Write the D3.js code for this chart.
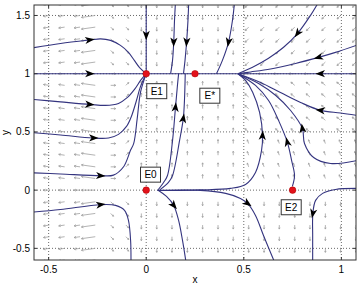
<!DOCTYPE html>
<html>
<head>
<meta charset="utf-8">
<script src="https://cdn.jsdelivr.net/npm/d3@7"></script>
<style>
body { margin: 0; background: #fff; }
svg { display: block; }
text { font-family: "Liberation Sans", Arial, sans-serif; fill: #000; }
</style>
</head>
<body>
<svg id="myGraph"></svg>
<script>
var width = 359;
var height = 286;

// axis ticks
var xTicks = [-0.5, 0, 0.5, 1];
var yTicks = [-0.5, 0, 0.5, 1, 1.5];

// equilibria
var eqX = [0, 0, 0.25, 0.75];
var eqY = [0, 1, 1, 0];
var labelText = ["E0", "E1", "E*", "E2"];
var labelX = [0.022, 0.054, 0.326, 0.743];
var labelY = [0.133, 0.85, 0.811, -0.147];

// direction field grid (gray arrows), one code per grid point
var fieldX = [-0.575, -0.496, -0.418, -0.339, -0.261, -0.182, -0.104, -0.025, 0.054, 0.132, 0.211,
              0.289, 0.368, 0.446, 0.525, 0.604, 0.682, 0.761, 0.839, 0.918, 0.996, 1.075];
var fieldY = [1.6, 1.5, 1.4, 1.3, 1.2, 1.1, 1.0, 0.9, 0.8, 0.7, 0.6, 0.5, 0.4, 0.3, 0.2, 0.1,
              0.0, -0.1, -0.2, -0.3, -0.4, -0.5, -0.6];
var fieldDir = [
    "bbbbBccSSSSSSSzzzzzzzz",
    "bbbbBccSSSSSSSzzzzzzzz",
    "bbbbBccSSSSSSSzzzzzzzz",
    "bbbbBccSSSSSSSzzzzzzzz",
    "bbbbBccSSSSSSSzzzzzzzz",
    "bbbbBccSSSSSSSzzzzzzzz",
    "WWWWLE........WWWWWWWW",
    "aaaaAEeNNNNNNNqqqqqqqq",
    "aaaaAEeNNNNNNNqqqqqqqq",
    "aaaaAEeNNNNNNNqqqqqqqq",
    "aaaaAEeNNNNNNNqqqqqqqq",
    "aaaaAEeNNNNNNNqqqqqqqq",
    "aaaaAEeNNNNNNNnnnnnnnn",
    "aaaaAEeNNNNNNNnnnnnnnn",
    "aaaaAEeNNNNNNNnnnnnnnn",
    "aaaaAEeNNNNNNNnnnnnnnn",
    "WWWWLE................",
    "bbbbBccSSSSSSSSSSSSSSS",
    "bbbbBccSSSSSSSSSSSSSSS",
    "bbbbBccSSSSSSSSSSSSSSS",
    "bbbbBccSSSSSSSSSSSSSSS",
    "bbbbBccSSSSSSSSSSSSSSS",
    "bbbbBccSSSSSSSSSSSSSSS"
];

// trajectories, points listed in the direction of flow
var lineTopLeft = [[-0.58,1.223],[-0.439,1.260],[-0.286,1.290],[-0.234,1.299],[-0.183,1.286],[-0.132,1.243],[-0.091,1.183],[-0.060,1.112],[-0.034,1.052],[0,1]];
var lineY1Left = [[-0.58,1],[0,1]];
var lineMidLeft = [[-0.58,0.779],[-0.439,0.758],[-0.286,0.736],[-0.209,0.728],[-0.142,0.745],[-0.096,0.796],[-0.060,0.865],[-0.029,0.942],[0,1]];
var lineLowLeft = [[-0.58,0.493],[-0.439,0.474],[-0.275,0.448],[-0.193,0.448],[-0.142,0.479],[-0.101,0.547],[-0.076,0.633],[-0.050,0.770],[-0.029,0.891],[0,1]];
var lineNearE0Left = [[-0.58,0.149],[-0.439,0.139],[-0.234,0.124],[-0.168,0.129],[-0.116,0.201],[-0.080,0.344],[-0.064,0.401],[-0.046,0.616],[-0.029,0.842],[0,1]];
var lineBottomLeft = [[-0.58,-0.189],[-0.439,-0.166],[-0.234,-0.125],[-0.157,-0.131],[-0.111,-0.174],[-0.091,-0.260],[-0.080,-0.432],[-0.078,-0.62]];
var lineAxisTop = [[0,1.62],[0,1]];
var lineTopA = [[0.150,1.62],[0.145,1.458],[0.141,1.272],[0.135,1.117],[0.125,1.0]];
var lineTopB = [[0.218,1.62],[0.214,1.458],[0.207,1.272],[0.199,1.117],[0.191,1.0]];
var lineTopC = [[0.453,1.62],[0.442,1.458],[0.422,1.272],[0.391,1.117],[0.360,1.0]];
var lineY1Mid = [[0,1],[0.47,1]];
var lineY1Right = [[1.08,1],[0.47,1]];
var lineRightHigh = [[1.08,1.245],[0.970,1.183],[0.883,1.140],[0.765,1.088],[0.637,1.041],[0.535,1.015],[0.47,1]];
var lineTopRight = [[0.885,1.62],[0.842,1.501],[0.776,1.347],[0.704,1.227],[0.627,1.133],[0.545,1.056],[0.47,1]];
var lineE0UpA = [[0.058,-0.003],[0.089,0.066],[0.109,0.126],[0.135,0.427],[0.150,0.711],[0.160,0.899],[0.166,1.0]];
var lineE0UpB = [[0.068,0],[0.114,0.066],[0.135,0.126],[0.171,0.427],[0.19,0.616],[0.196,0.77],[0.2,1.0]];
var lineE0Right = [[0.058,-0.003],[0.278,0.002],[0.432,0.015],[0.509,0.049],[0.560,0.152],[0.591,0.341],[0.596,0.470],[0.581,0.667],[0.546,0.839],[0.509,0.942],[0.47,1]];
var lineE2Up = [[0.749,0.032],[0.760,0.126],[0.745,0.255],[0.723,0.412],[0.678,0.599],[0.627,0.770],[0.560,0.899],[0.47,1]];
var lineRightMid = [[1.08,0.254],[0.945,0.229],[0.858,0.280],[0.811,0.401],[0.800,0.530],[0.740,0.684],[0.664,0.813],[0.576,0.916],[0.47,1]];
var lineRightUpper = [[1.08,0.642],[0.996,0.663],[0.893,0.685],[0.791,0.753],[0.688,0.839],[0.586,0.925],[0.47,1]];
var lineE0Down = [[0.063,-0.003],[0.104,-0.054],[0.141,-0.131],[0.166,-0.260],[0.186,-0.432],[0.204,-0.62]];
var lineE0RightDown = [[0.073,-0.002],[0.278,-0.002],[0.407,-0.028],[0.483,-0.071],[0.519,-0.114],[0.560,-0.217],[0.601,-0.389],[0.658,-0.62]];
var lineRightBottom = [[1.08,0.015],[0.970,0.006],[0.904,-0.028],[0.868,-0.088],[0.854,-0.200],[0.853,-0.389],[0.853,-0.62]];

var streamLines = [lineTopLeft, lineY1Left, lineMidLeft, lineLowLeft, lineNearE0Left, lineBottomLeft,
    lineAxisTop, lineTopA, lineTopB, lineTopC, lineY1Mid, lineY1Right, lineRightHigh, lineTopRight,
    lineE0UpA, lineE0UpB, lineE0Right, lineE2Up, lineRightMid, lineRightUpper,
    lineE0Down, lineE0RightDown, lineRightBottom];
// where each trajectory carries its arrowhead (null = none)
var streamArrows = [[-0.29,1.29], [-0.29,1], [-0.29,0.736], [-0.27,0.448], [-0.234,0.124], [-0.234,-0.125],
    [0,1.33], [0.141,1.272], [0.207,1.272], [0.422,1.272], null, [0.893,1], [0.883,1.14], [0.776,1.347],
    [0.150,0.711], [0.19,0.616], [0.596,0.47], [0.723,0.412], [0.8,0.53], [0.893,0.685],
    [0.141,-0.131], [0.519,-0.114], [0.854,-0.2]];

// code -> [angle in degrees, length in px]
var dirCodes = {
    a: [172, 6], A: [172, 14], b: [188, 6], B: [188, 14],
    W: [180, 6], L: [180, 14], E: [0, 5], e: [45, 4], c: [-45, 4],
    N: [90, 4], S: [-90, 4], q: [140, 5], n: [110, 4], z: [225, 5]
};

var svg = d3.select("#myGraph")
    .attr("width", width)
    .attr("height", height);

var plotL = 34, plotR = 356, plotT = 5, plotB = 260;

var x = d3.scaleLinear().domain([-0.575, 1.075]).range([plotL, plotR]);
var y = d3.scaleLinear().domain([-0.6, 1.59]).range([plotB, plotT]);

svg.append("defs").append("clipPath").attr("id", "plotClip")
    .append("rect")
    .attr("x", plotL).attr("y", plotT)
    .attr("width", plotR - plotL).attr("height", plotB - plotT);

var plot = svg.append("g").attr("clip-path", "url(#plotClip)");

// grid
plot.selectAll(".gx").data(xTicks).enter().append("line")
    .attr("x1", function(d){ return x(d); }).attr("x2", function(d){ return x(d); })
    .attr("y1", plotT).attr("y2", plotB)
    .attr("stroke", "#444").attr("stroke-width", 0.8).attr("stroke-dasharray", "1,2");
plot.selectAll(".gy").data(yTicks).enter().append("line")
    .attr("y1", function(d){ return y(d); }).attr("y2", function(d){ return y(d); })
    .attr("x1", plotL).attr("x2", plotR)
    .attr("stroke", "#444").attr("stroke-width", 0.8).attr("stroke-dasharray", "1,2");

// direction field
var quiver = [];
fieldDir.forEach(function(row, i){
    for (var j = 0; j < row.length; j++) {
        var code = dirCodes[row[j]];
        if (!code) continue;
        quiver.push({x: fieldX[j], y: fieldY[i], a: code[0] * Math.PI / 180, len: code[1]});
    }
});

var qg = plot.append("g").attr("stroke", "#a0a0a0").attr("stroke-width", 0.8).attr("fill", "none");
qg.selectAll("path").data(quiver).enter().append("path")
    .attr("d", function(d){
        var x0 = x(d.x), y0 = y(d.y);
        var dx = Math.cos(d.a), dy = -Math.sin(d.a);
        var x1 = x0 + dx * d.len, y1 = y0 + dy * d.len;
        var h = Math.min(2.2, d.len * 0.4);
        var p = "M" + x0 + "," + y0 + "L" + x1 + "," + y1;
        [0.5, -0.5].forEach(function(s){
            var ca = Math.cos(s), sa = Math.sin(s);
            var bx = -(dx * ca - dy * sa), by = -(dx * sa + dy * ca);
            p += "M" + x1 + "," + y1 + "L" + (x1 + bx * h) + "," + (y1 + by * h);
        });
        return p;
    });

// trajectories
var line = d3.line()
    .x(function(d){ return x(d[0]); })
    .y(function(d){ return y(d[1]); })
    .curve(d3.curveCatmullRom.alpha(0.5));

plot.selectAll(".traj").data(streamLines).enter().append("path")
    .attr("d", line)
    .attr("fill", "none")
    .attr("stroke", "#34347f")
    .attr("stroke-width", 1.1);

// arrowheads on trajectories
function arrowAngle(pts, p) {
    var best = 0, bestD = Infinity;
    for (var k = 0; k < pts.length - 1; k++) {
        var ax = x(pts[k][0]), ay = y(pts[k][1]);
        var bx = x(pts[k+1][0]), by = y(pts[k+1][1]);
        var vx = bx - ax, vy = by - ay;
        var t = ((p[0] - ax) * vx + (p[1] - ay) * vy) / (vx * vx + vy * vy);
        t = Math.max(0, Math.min(1, t));
        var qx = ax + t * vx - p[0], qy = ay + t * vy - p[1];
        var dd = qx * qx + qy * qy;
        if (dd < bestD) { bestD = dd; best = k; }
    }
    return Math.atan2(y(pts[best+1][1]) - y(pts[best][1]), x(pts[best+1][0]) - x(pts[best][0])) * 180 / Math.PI;
}

var heads = [];
streamLines.forEach(function(pts, i){
    var a = streamArrows[i];
    if (!a) return;
    heads.push({px: x(a[0]), py: y(a[1]), ang: arrowAngle(pts, [x(a[0]), y(a[1])])});
});

plot.selectAll(".head").data(heads).enter().append("path")
    .attr("d", "M5,0L-4.5,-3.6L-2,0L-4.5,3.6Z")
    .attr("transform", function(d){ return "translate(" + d.px + "," + d.py + ")rotate(" + d.ang + ")"; })
    .attr("fill", "#000");

// equilibria
plot.selectAll(".eq").data(eqX).enter().append("circle")
    .attr("cx", function(d){ return x(d); })
    .attr("cy", function(d, i){ return y(eqY[i]); })
    .attr("r", 3.3)
    .attr("fill", "#e3121b")
    .attr("stroke", "#a00")
    .attr("stroke-width", 0.5);

// labels in boxes
var lab = plot.selectAll(".lab").data(labelText).enter().append("g")
    .attr("transform", function(d, i){ return "translate(" + x(labelX[i]) + "," + y(labelY[i]) + ")"; });
lab.append("rect")
    .attr("x", -10).attr("y", -7.5).attr("width", 20).attr("height", 15)
    .attr("fill", "#fff").attr("stroke", "#333").attr("stroke-width", 1);
lab.append("text")
    .attr("text-anchor", "middle").attr("dy", "0.35em")
    .attr("font-size", 10)
    .text(function(d){ return d; });

// axes frame and ticks
svg.append("rect")
    .attr("x", plotL).attr("y", plotT)
    .attr("width", plotR - plotL).attr("height", plotB - plotT)
    .attr("fill", "none").attr("stroke", "#333").attr("stroke-width", 1);

var tickLen = 3;
xTicks.forEach(function(t){
    svg.append("line").attr("x1", x(t)).attr("x2", x(t)).attr("y1", plotB).attr("y2", plotB - tickLen).attr("stroke", "#333");
    svg.append("line").attr("x1", x(t)).attr("x2", x(t)).attr("y1", plotT).attr("y2", plotT + tickLen).attr("stroke", "#333");
});
yTicks.forEach(function(t){
    svg.append("line").attr("y1", y(t)).attr("y2", y(t)).attr("x1", plotL).attr("x2", plotL + tickLen).attr("stroke", "#333");
    svg.append("line").attr("y1", y(t)).attr("y2", y(t)).attr("x1", plotR).attr("x2", plotR - tickLen).attr("stroke", "#333");
});

svg.selectAll(".xl").data(xTicks).enter().append("text")
    .attr("x", function(d){ return x(d); })
    .attr("y", 273)
    .attr("text-anchor", "middle")
    .attr("font-size", 10)
    .text(function(d){ return d; });

svg.selectAll(".yl").data(yTicks).enter().append("text")
    .attr("x", 30)
    .attr("y", function(d){ return y(d); })
    .attr("dy", "0.35em")
    .attr("text-anchor", "end")
    .attr("font-size", 10)
    .text(function(d){ return d; });

svg.append("text")
    .attr("x", (plotL + plotR) / 2).attr("y", 283)
    .attr("text-anchor", "middle").attr("font-size", 10)
    .text("x");

svg.append("text")
    .attr("transform", "translate(9," + ((plotT + plotB) / 2) + ")rotate(-90)")
    .attr("text-anchor", "middle").attr("font-size", 10)
    .text("y");
</script>
</body>
</html>
